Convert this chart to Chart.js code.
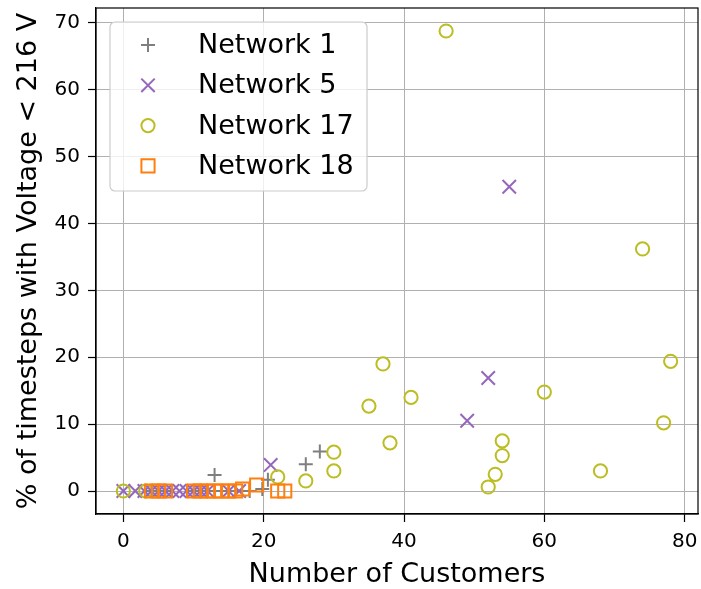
<!DOCTYPE html>
<html>
<head>
<meta charset="utf-8">
<script src="https://cdn.jsdelivr.net/npm/chart.js@4/dist/chart.umd.min.js"></script>
<style>
  html, body { margin: 0; padding: 0; background: #ffffff; }
  #wrap { width: 701px; height: 589px; }
</style>
</head>
<body>
<div id="wrap"><canvas id="c" width="701" height="589"></canvas></div>
<script>
// Number of customers per feeder and % of timesteps with under-voltage
const net1X = [4, 6, 10, 12, 13, 14, 16, 18, 19.8, 20.6, 26, 28];
const net1Y = [0, 0, 0, 0, 2.4, 0, 0, 0, 0.3, 1.7, 4.0, 5.9];

const net5X = [0, 1.7, 3, 4, 5, 6, 7, 8, 9, 10, 11, 12, 15, 16.5, 21, 49, 52, 55];
const net5Y = [0, 0, 0, 0, 0, 0, 0, 0, 0, 0, 0, 0, 0, 0, 3.9, 10.5, 16.9, 45.5];

const net17X = [0, 3.2, 22, 26, 30, 30, 35, 37, 38, 41, 46, 52, 53, 54, 54, 60, 68, 74, 77, 78];
const net17Y = [0, 0, 2.1, 1.5, 5.8, 3.0, 12.7, 19.0, 7.2, 14.0, 68.8, 0.6, 2.5, 7.5, 5.3, 14.8, 3.0, 36.2, 10.2, 19.4];

const net18X = [4, 5, 6, 10, 11, 12, 13, 14, 15, 16, 17, 19, 22, 23];
const net18Y = [0, 0, 0, 0, 0, 0, 0, 0, 0, 0, 0.3, 0.9, 0, 0];

const seriesNames = ['Network 1', 'Network 5', 'Network 17', 'Network 18'];

const xTicks = [0, 20, 40, 60, 80];
const yTicks = [0, 10, 20, 30, 40, 50, 60, 70];

const FONT = "'DejaVu Sans', sans-serif";

function pts(xs, ys) { return xs.map((x, i) => ({ x: x, y: ys[i] })); }

const styles = [
  { color: '#7f7f7f', pointStyle: 'cross',    radius: 7   },
  { color: '#9467bd', pointStyle: 'crossRot', radius: 9.5 },
  { color: '#bcbd22', pointStyle: 'circle',   radius: 6.6 },
  { color: '#ff7f0e', pointStyle: 'rect',     radius: 9.3 }
];
const seriesData = [pts(net1X, net1Y), pts(net5X, net5Y), pts(net17X, net17Y), pts(net18X, net18Y)];

const datasets = seriesNames.map((name, i) => ({
  label: name,
  data: seriesData[i],
  showLine: false,
  pointStyle: styles[i].pointStyle,
  pointRadius: styles[i].radius,
  pointHoverRadius: styles[i].radius,
  pointBorderWidth: 2,
  pointBorderColor: styles[i].color,
  pointBackgroundColor: 'rgba(0,0,0,0)',
  order: seriesNames.length - i   // later series are drawn on top
}));

// full box around the plotting area
const framePlugin = {
  id: 'frame',
  afterDatasetsDraw(chart) {
    const a = chart.chartArea, ctx = chart.ctx;
    ctx.save();
    ctx.strokeStyle = '#000000';
    ctx.lineWidth = 1.2;
    ctx.strokeRect(a.left, a.top, a.right - a.left, a.bottom - a.top);
    ctx.restore();
  }
};

// legend box in the upper-left corner of the plot
const boxLegend = {
  id: 'boxLegend',
  afterDraw(chart) {
    const ctx = chart.ctx;
    const a = chart.chartArea;
    const bx = a.left + 14, by = a.top + 14, bw = 257, bh = 169;
    ctx.save();
    ctx.beginPath();
    if (ctx.roundRect) ctx.roundRect(bx, by, bw, bh, 5); else ctx.rect(bx, by, bw, bh);
    ctx.fillStyle = 'rgba(255,255,255,0.8)';
    ctx.fill();
    ctx.strokeStyle = '#cccccc';
    ctx.lineWidth = 1.2;
    ctx.stroke();
    ctx.font = '27px ' + FONT;
    ctx.textBaseline = 'middle';
    ctx.textAlign = 'left';
    chart.data.datasets.forEach((ds, i) => {
      const cy = by + 23 + i * 40.3;
      const mx = bx + 38;
      ctx.strokeStyle = ds.pointBorderColor;
      ctx.fillStyle = 'rgba(0,0,0,0)';
      ctx.lineWidth = 2;
      Chart.helpers.drawPoint(ctx, {
        pointStyle: ds.pointStyle, radius: ds.pointRadius, rotation: 0, borderWidth: 2
      }, mx, cy);
      ctx.fillStyle = '#000000';
      ctx.fillText(ds.label, bx + 88, cy + 1);
    });
    ctx.restore();
  }
};

new Chart(document.getElementById('c'), {
  type: 'scatter',
  data: { datasets: datasets },
  options: {
    responsive: false,
    animation: false,
    devicePixelRatio: 1,
    layout: { autoPadding: false, padding: { left: 0, top: 8, right: 3, bottom: 0 } },
    plugins: {
      legend: { display: false },
      tooltip: { enabled: false }
    },
    scales: {
      x: {
        type: 'linear',
        min: -3.9,
        max: 81.9,
        afterBuildTicks(s) { s.ticks = xTicks.map(v => ({ value: v })); },
        afterFit(s) { s.height = 75; s.paddingLeft = 0; s.paddingRight = 0; },
        grid: {
          color: '#b0b0b0', lineWidth: 1, drawTicks: true,
          tickLength: 8, tickColor: '#000000', tickWidth: 1.2
        },
        border: { color: '#000000', width: 1.2 },
        ticks: { color: '#000000', font: { family: FONT, size: 20 }, padding: 8, maxRotation: 0 },
        title: {
          display: true, text: 'Number of Customers', color: '#000000',
          font: { family: FONT, size: 27 }, padding: { top: 0, bottom: -2 }
        }
      },
      y: {
        type: 'linear',
        min: -3.44,
        max: 72.24,
        afterBuildTicks(s) { s.ticks = yTicks.map(v => ({ value: v })); },
        afterFit(s) { s.width = 96; s.paddingTop = 0; s.paddingBottom = 0; },
        grid: {
          color: '#b0b0b0', lineWidth: 1, drawTicks: true,
          tickLength: 8, tickColor: '#000000', tickWidth: 1.2
        },
        border: { color: '#000000', width: 1.2 },
        ticks: { color: '#000000', font: { family: FONT, size: 20 }, padding: 8 },
        title: {
          display: true, text: '% of timesteps with Voltage < 216 V', color: '#000000',
          font: { family: FONT, size: 27 }, padding: { top: 13, bottom: 0 }
        }
      }
    }
  },
  plugins: [framePlugin, boxLegend]
});
</script>
</body>
</html>
